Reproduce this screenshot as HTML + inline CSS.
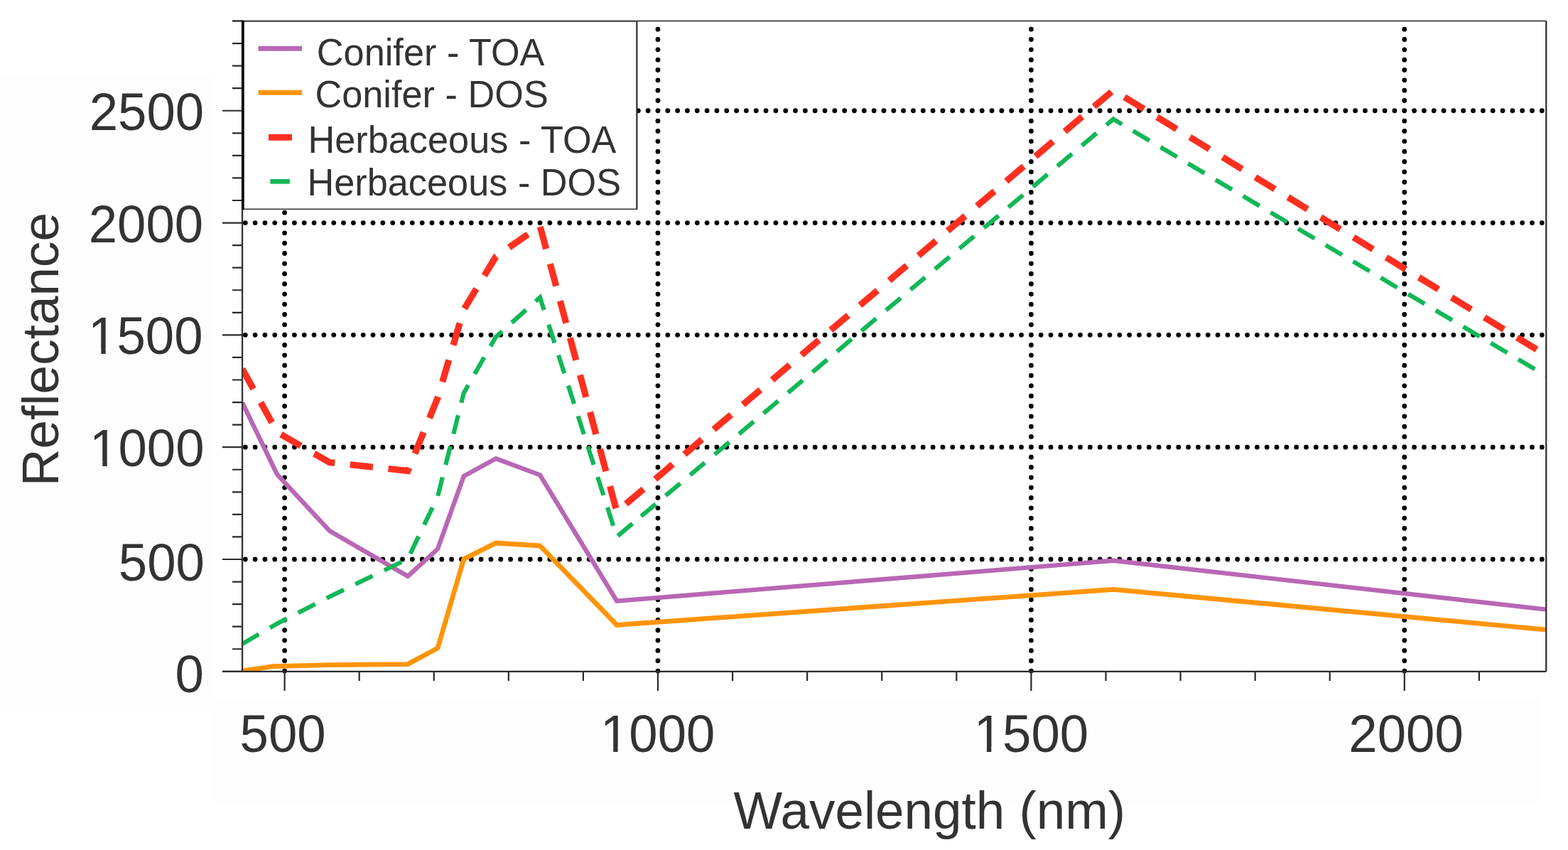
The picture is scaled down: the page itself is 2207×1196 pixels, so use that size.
<!DOCTYPE html><html><head><meta charset="utf-8"><title>Reflectance chart</title>
<style>html,body{margin:0;padding:0;background:#fff;}svg{display:block;}text{font-family:"Liberation Sans",Arial,sans-serif;fill:#333333;}</style></head><body>
<svg width="2207" height="1196" viewBox="0 0 2207 1196">
<rect x="0" y="0" width="2207" height="1196" fill="#ffffff"/>
<rect x="0" y="110" width="300" height="891" fill="#fdfdfd"/>
<rect x="298" y="982" width="1868" height="146" fill="#fdfdfd"/>
<rect x="341.0" y="29.5" width="1835.3000000000002" height="915.3" fill="#ffffff"/>
<path d="M345.30 786.99h0M359.12 786.99h0M372.95 786.99h0M386.77 786.99h0M400.60 786.99h0M414.43 786.99h0M428.25 786.99h0M442.08 786.99h0M455.90 786.99h0M469.73 786.99h0M483.56 786.99h0M497.38 786.99h0M511.21 786.99h0M525.03 786.99h0M538.86 786.99h0M552.69 786.99h0M566.51 786.99h0M580.34 786.99h0M594.16 786.99h0M607.99 786.99h0M621.82 786.99h0M635.64 786.99h0M649.47 786.99h0M663.29 786.99h0M677.12 786.99h0M690.95 786.99h0M704.77 786.99h0M718.60 786.99h0M732.42 786.99h0M746.25 786.99h0M760.08 786.99h0M773.90 786.99h0M787.73 786.99h0M801.55 786.99h0M815.38 786.99h0M829.21 786.99h0M843.03 786.99h0M856.86 786.99h0M870.68 786.99h0M884.51 786.99h0M898.34 786.99h0M912.16 786.99h0M925.99 786.99h0M939.81 786.99h0M953.64 786.99h0M967.47 786.99h0M981.29 786.99h0M995.12 786.99h0M1008.94 786.99h0M1022.77 786.99h0M1036.60 786.99h0M1050.42 786.99h0M1064.25 786.99h0M1078.07 786.99h0M1091.90 786.99h0M1105.73 786.99h0M1119.55 786.99h0M1133.38 786.99h0M1147.20 786.99h0M1161.03 786.99h0M1174.86 786.99h0M1188.68 786.99h0M1202.51 786.99h0M1216.33 786.99h0M1230.16 786.99h0M1243.99 786.99h0M1257.81 786.99h0M1271.64 786.99h0M1285.46 786.99h0M1299.29 786.99h0M1313.12 786.99h0M1326.94 786.99h0M1340.77 786.99h0M1354.59 786.99h0M1368.42 786.99h0M1382.25 786.99h0M1396.07 786.99h0M1409.90 786.99h0M1423.72 786.99h0M1437.55 786.99h0M1451.38 786.99h0M1465.20 786.99h0M1479.03 786.99h0M1492.85 786.99h0M1506.68 786.99h0M1520.51 786.99h0M1534.33 786.99h0M1548.16 786.99h0M1561.98 786.99h0M1575.81 786.99h0M1589.64 786.99h0M1603.46 786.99h0M1617.29 786.99h0M1631.11 786.99h0M1644.94 786.99h0M1658.77 786.99h0M1672.59 786.99h0M1686.42 786.99h0M1700.24 786.99h0M1714.07 786.99h0M1727.90 786.99h0M1741.72 786.99h0M1755.55 786.99h0M1769.37 786.99h0M1783.20 786.99h0M1797.03 786.99h0M1810.85 786.99h0M1824.68 786.99h0M1838.50 786.99h0M1852.33 786.99h0M1866.16 786.99h0M1879.98 786.99h0M1893.81 786.99h0M1907.63 786.99h0M1921.46 786.99h0M1935.29 786.99h0M1949.11 786.99h0M1962.94 786.99h0M1976.76 786.99h0M1990.59 786.99h0M2004.42 786.99h0M2018.24 786.99h0M2032.07 786.99h0M2045.89 786.99h0M2059.72 786.99h0M2073.55 786.99h0M2087.37 786.99h0M2101.20 786.99h0M2115.02 786.99h0M2128.85 786.99h0M2142.68 786.99h0M2156.50 786.99h0M2170.33 786.99h0M345.30 629.18h0M359.12 629.18h0M372.95 629.18h0M386.77 629.18h0M400.60 629.18h0M414.43 629.18h0M428.25 629.18h0M442.08 629.18h0M455.90 629.18h0M469.73 629.18h0M483.56 629.18h0M497.38 629.18h0M511.21 629.18h0M525.03 629.18h0M538.86 629.18h0M552.69 629.18h0M566.51 629.18h0M580.34 629.18h0M594.16 629.18h0M607.99 629.18h0M621.82 629.18h0M635.64 629.18h0M649.47 629.18h0M663.29 629.18h0M677.12 629.18h0M690.95 629.18h0M704.77 629.18h0M718.60 629.18h0M732.42 629.18h0M746.25 629.18h0M760.08 629.18h0M773.90 629.18h0M787.73 629.18h0M801.55 629.18h0M815.38 629.18h0M829.21 629.18h0M843.03 629.18h0M856.86 629.18h0M870.68 629.18h0M884.51 629.18h0M898.34 629.18h0M912.16 629.18h0M925.99 629.18h0M939.81 629.18h0M953.64 629.18h0M967.47 629.18h0M981.29 629.18h0M995.12 629.18h0M1008.94 629.18h0M1022.77 629.18h0M1036.60 629.18h0M1050.42 629.18h0M1064.25 629.18h0M1078.07 629.18h0M1091.90 629.18h0M1105.73 629.18h0M1119.55 629.18h0M1133.38 629.18h0M1147.20 629.18h0M1161.03 629.18h0M1174.86 629.18h0M1188.68 629.18h0M1202.51 629.18h0M1216.33 629.18h0M1230.16 629.18h0M1243.99 629.18h0M1257.81 629.18h0M1271.64 629.18h0M1285.46 629.18h0M1299.29 629.18h0M1313.12 629.18h0M1326.94 629.18h0M1340.77 629.18h0M1354.59 629.18h0M1368.42 629.18h0M1382.25 629.18h0M1396.07 629.18h0M1409.90 629.18h0M1423.72 629.18h0M1437.55 629.18h0M1451.38 629.18h0M1465.20 629.18h0M1479.03 629.18h0M1492.85 629.18h0M1506.68 629.18h0M1520.51 629.18h0M1534.33 629.18h0M1548.16 629.18h0M1561.98 629.18h0M1575.81 629.18h0M1589.64 629.18h0M1603.46 629.18h0M1617.29 629.18h0M1631.11 629.18h0M1644.94 629.18h0M1658.77 629.18h0M1672.59 629.18h0M1686.42 629.18h0M1700.24 629.18h0M1714.07 629.18h0M1727.90 629.18h0M1741.72 629.18h0M1755.55 629.18h0M1769.37 629.18h0M1783.20 629.18h0M1797.03 629.18h0M1810.85 629.18h0M1824.68 629.18h0M1838.50 629.18h0M1852.33 629.18h0M1866.16 629.18h0M1879.98 629.18h0M1893.81 629.18h0M1907.63 629.18h0M1921.46 629.18h0M1935.29 629.18h0M1949.11 629.18h0M1962.94 629.18h0M1976.76 629.18h0M1990.59 629.18h0M2004.42 629.18h0M2018.24 629.18h0M2032.07 629.18h0M2045.89 629.18h0M2059.72 629.18h0M2073.55 629.18h0M2087.37 629.18h0M2101.20 629.18h0M2115.02 629.18h0M2128.85 629.18h0M2142.68 629.18h0M2156.50 629.18h0M2170.33 629.18h0M345.30 471.37h0M359.12 471.37h0M372.95 471.37h0M386.77 471.37h0M400.60 471.37h0M414.43 471.37h0M428.25 471.37h0M442.08 471.37h0M455.90 471.37h0M469.73 471.37h0M483.56 471.37h0M497.38 471.37h0M511.21 471.37h0M525.03 471.37h0M538.86 471.37h0M552.69 471.37h0M566.51 471.37h0M580.34 471.37h0M594.16 471.37h0M607.99 471.37h0M621.82 471.37h0M635.64 471.37h0M649.47 471.37h0M663.29 471.37h0M677.12 471.37h0M690.95 471.37h0M704.77 471.37h0M718.60 471.37h0M732.42 471.37h0M746.25 471.37h0M760.08 471.37h0M773.90 471.37h0M787.73 471.37h0M801.55 471.37h0M815.38 471.37h0M829.21 471.37h0M843.03 471.37h0M856.86 471.37h0M870.68 471.37h0M884.51 471.37h0M898.34 471.37h0M912.16 471.37h0M925.99 471.37h0M939.81 471.37h0M953.64 471.37h0M967.47 471.37h0M981.29 471.37h0M995.12 471.37h0M1008.94 471.37h0M1022.77 471.37h0M1036.60 471.37h0M1050.42 471.37h0M1064.25 471.37h0M1078.07 471.37h0M1091.90 471.37h0M1105.73 471.37h0M1119.55 471.37h0M1133.38 471.37h0M1147.20 471.37h0M1161.03 471.37h0M1174.86 471.37h0M1188.68 471.37h0M1202.51 471.37h0M1216.33 471.37h0M1230.16 471.37h0M1243.99 471.37h0M1257.81 471.37h0M1271.64 471.37h0M1285.46 471.37h0M1299.29 471.37h0M1313.12 471.37h0M1326.94 471.37h0M1340.77 471.37h0M1354.59 471.37h0M1368.42 471.37h0M1382.25 471.37h0M1396.07 471.37h0M1409.90 471.37h0M1423.72 471.37h0M1437.55 471.37h0M1451.38 471.37h0M1465.20 471.37h0M1479.03 471.37h0M1492.85 471.37h0M1506.68 471.37h0M1520.51 471.37h0M1534.33 471.37h0M1548.16 471.37h0M1561.98 471.37h0M1575.81 471.37h0M1589.64 471.37h0M1603.46 471.37h0M1617.29 471.37h0M1631.11 471.37h0M1644.94 471.37h0M1658.77 471.37h0M1672.59 471.37h0M1686.42 471.37h0M1700.24 471.37h0M1714.07 471.37h0M1727.90 471.37h0M1741.72 471.37h0M1755.55 471.37h0M1769.37 471.37h0M1783.20 471.37h0M1797.03 471.37h0M1810.85 471.37h0M1824.68 471.37h0M1838.50 471.37h0M1852.33 471.37h0M1866.16 471.37h0M1879.98 471.37h0M1893.81 471.37h0M1907.63 471.37h0M1921.46 471.37h0M1935.29 471.37h0M1949.11 471.37h0M1962.94 471.37h0M1976.76 471.37h0M1990.59 471.37h0M2004.42 471.37h0M2018.24 471.37h0M2032.07 471.37h0M2045.89 471.37h0M2059.72 471.37h0M2073.55 471.37h0M2087.37 471.37h0M2101.20 471.37h0M2115.02 471.37h0M2128.85 471.37h0M2142.68 471.37h0M2156.50 471.37h0M2170.33 471.37h0M345.30 313.56h0M359.12 313.56h0M372.95 313.56h0M386.77 313.56h0M400.60 313.56h0M414.43 313.56h0M428.25 313.56h0M442.08 313.56h0M455.90 313.56h0M469.73 313.56h0M483.56 313.56h0M497.38 313.56h0M511.21 313.56h0M525.03 313.56h0M538.86 313.56h0M552.69 313.56h0M566.51 313.56h0M580.34 313.56h0M594.16 313.56h0M607.99 313.56h0M621.82 313.56h0M635.64 313.56h0M649.47 313.56h0M663.29 313.56h0M677.12 313.56h0M690.95 313.56h0M704.77 313.56h0M718.60 313.56h0M732.42 313.56h0M746.25 313.56h0M760.08 313.56h0M773.90 313.56h0M787.73 313.56h0M801.55 313.56h0M815.38 313.56h0M829.21 313.56h0M843.03 313.56h0M856.86 313.56h0M870.68 313.56h0M884.51 313.56h0M898.34 313.56h0M912.16 313.56h0M925.99 313.56h0M939.81 313.56h0M953.64 313.56h0M967.47 313.56h0M981.29 313.56h0M995.12 313.56h0M1008.94 313.56h0M1022.77 313.56h0M1036.60 313.56h0M1050.42 313.56h0M1064.25 313.56h0M1078.07 313.56h0M1091.90 313.56h0M1105.73 313.56h0M1119.55 313.56h0M1133.38 313.56h0M1147.20 313.56h0M1161.03 313.56h0M1174.86 313.56h0M1188.68 313.56h0M1202.51 313.56h0M1216.33 313.56h0M1230.16 313.56h0M1243.99 313.56h0M1257.81 313.56h0M1271.64 313.56h0M1285.46 313.56h0M1299.29 313.56h0M1313.12 313.56h0M1326.94 313.56h0M1340.77 313.56h0M1354.59 313.56h0M1368.42 313.56h0M1382.25 313.56h0M1396.07 313.56h0M1409.90 313.56h0M1423.72 313.56h0M1437.55 313.56h0M1451.38 313.56h0M1465.20 313.56h0M1479.03 313.56h0M1492.85 313.56h0M1506.68 313.56h0M1520.51 313.56h0M1534.33 313.56h0M1548.16 313.56h0M1561.98 313.56h0M1575.81 313.56h0M1589.64 313.56h0M1603.46 313.56h0M1617.29 313.56h0M1631.11 313.56h0M1644.94 313.56h0M1658.77 313.56h0M1672.59 313.56h0M1686.42 313.56h0M1700.24 313.56h0M1714.07 313.56h0M1727.90 313.56h0M1741.72 313.56h0M1755.55 313.56h0M1769.37 313.56h0M1783.20 313.56h0M1797.03 313.56h0M1810.85 313.56h0M1824.68 313.56h0M1838.50 313.56h0M1852.33 313.56h0M1866.16 313.56h0M1879.98 313.56h0M1893.81 313.56h0M1907.63 313.56h0M1921.46 313.56h0M1935.29 313.56h0M1949.11 313.56h0M1962.94 313.56h0M1976.76 313.56h0M1990.59 313.56h0M2004.42 313.56h0M2018.24 313.56h0M2032.07 313.56h0M2045.89 313.56h0M2059.72 313.56h0M2073.55 313.56h0M2087.37 313.56h0M2101.20 313.56h0M2115.02 313.56h0M2128.85 313.56h0M2142.68 313.56h0M2156.50 313.56h0M2170.33 313.56h0M345.30 155.75h0M359.12 155.75h0M372.95 155.75h0M386.77 155.75h0M400.60 155.75h0M414.43 155.75h0M428.25 155.75h0M442.08 155.75h0M455.90 155.75h0M469.73 155.75h0M483.56 155.75h0M497.38 155.75h0M511.21 155.75h0M525.03 155.75h0M538.86 155.75h0M552.69 155.75h0M566.51 155.75h0M580.34 155.75h0M594.16 155.75h0M607.99 155.75h0M621.82 155.75h0M635.64 155.75h0M649.47 155.75h0M663.29 155.75h0M677.12 155.75h0M690.95 155.75h0M704.77 155.75h0M718.60 155.75h0M732.42 155.75h0M746.25 155.75h0M760.08 155.75h0M773.90 155.75h0M787.73 155.75h0M801.55 155.75h0M815.38 155.75h0M829.21 155.75h0M843.03 155.75h0M856.86 155.75h0M870.68 155.75h0M884.51 155.75h0M898.34 155.75h0M912.16 155.75h0M925.99 155.75h0M939.81 155.75h0M953.64 155.75h0M967.47 155.75h0M981.29 155.75h0M995.12 155.75h0M1008.94 155.75h0M1022.77 155.75h0M1036.60 155.75h0M1050.42 155.75h0M1064.25 155.75h0M1078.07 155.75h0M1091.90 155.75h0M1105.73 155.75h0M1119.55 155.75h0M1133.38 155.75h0M1147.20 155.75h0M1161.03 155.75h0M1174.86 155.75h0M1188.68 155.75h0M1202.51 155.75h0M1216.33 155.75h0M1230.16 155.75h0M1243.99 155.75h0M1257.81 155.75h0M1271.64 155.75h0M1285.46 155.75h0M1299.29 155.75h0M1313.12 155.75h0M1326.94 155.75h0M1340.77 155.75h0M1354.59 155.75h0M1368.42 155.75h0M1382.25 155.75h0M1396.07 155.75h0M1409.90 155.75h0M1423.72 155.75h0M1437.55 155.75h0M1451.38 155.75h0M1465.20 155.75h0M1479.03 155.75h0M1492.85 155.75h0M1506.68 155.75h0M1520.51 155.75h0M1534.33 155.75h0M1548.16 155.75h0M1561.98 155.75h0M1575.81 155.75h0M1589.64 155.75h0M1603.46 155.75h0M1617.29 155.75h0M1631.11 155.75h0M1644.94 155.75h0M1658.77 155.75h0M1672.59 155.75h0M1686.42 155.75h0M1700.24 155.75h0M1714.07 155.75h0M1727.90 155.75h0M1741.72 155.75h0M1755.55 155.75h0M1769.37 155.75h0M1783.20 155.75h0M1797.03 155.75h0M1810.85 155.75h0M1824.68 155.75h0M1838.50 155.75h0M1852.33 155.75h0M1866.16 155.75h0M1879.98 155.75h0M1893.81 155.75h0M1907.63 155.75h0M1921.46 155.75h0M1935.29 155.75h0M1949.11 155.75h0M1962.94 155.75h0M1976.76 155.75h0M1990.59 155.75h0M2004.42 155.75h0M2018.24 155.75h0M2032.07 155.75h0M2045.89 155.75h0M2059.72 155.75h0M2073.55 155.75h0M2087.37 155.75h0M2101.20 155.75h0M2115.02 155.75h0M2128.85 155.75h0M2142.68 155.75h0M2156.50 155.75h0M2170.33 155.75h0M400.60 944.10v0M400.60 929.77v0M400.60 915.44v0M400.60 901.10v0M400.60 886.77v0M400.60 872.44v0M400.60 858.11v0M400.60 843.78v0M400.60 829.44v0M400.60 815.11v0M400.60 800.78v0M400.60 786.45v0M400.60 772.12v0M400.60 757.78v0M400.60 743.45v0M400.60 729.12v0M400.60 714.79v0M400.60 700.46v0M400.60 686.12v0M400.60 671.79v0M400.60 657.46v0M400.60 643.13v0M400.60 628.80v0M400.60 614.46v0M400.60 600.13v0M400.60 585.80v0M400.60 571.47v0M400.60 557.14v0M400.60 542.80v0M400.60 528.47v0M400.60 514.14v0M400.60 499.81v0M400.60 485.48v0M400.60 471.14v0M400.60 456.81v0M400.60 442.48v0M400.60 428.15v0M400.60 413.82v0M400.60 399.48v0M400.60 385.15v0M400.60 370.82v0M400.60 356.49v0M400.60 342.16v0M400.60 327.82v0M400.60 313.49v0M400.60 299.16v0M400.60 284.83v0M400.60 270.50v0M400.60 256.16v0M400.60 241.83v0M400.60 227.50v0M400.60 213.17v0M400.60 198.84v0M400.60 184.50v0M400.60 170.17v0M400.60 155.84v0M400.60 141.51v0M400.60 127.18v0M400.60 112.84v0M400.60 98.51v0M400.60 84.18v0M400.60 69.85v0M400.60 55.52v0M400.60 41.18v0M926.00 944.10v0M926.00 929.77v0M926.00 915.44v0M926.00 901.10v0M926.00 886.77v0M926.00 872.44v0M926.00 858.11v0M926.00 843.78v0M926.00 829.44v0M926.00 815.11v0M926.00 800.78v0M926.00 786.45v0M926.00 772.12v0M926.00 757.78v0M926.00 743.45v0M926.00 729.12v0M926.00 714.79v0M926.00 700.46v0M926.00 686.12v0M926.00 671.79v0M926.00 657.46v0M926.00 643.13v0M926.00 628.80v0M926.00 614.46v0M926.00 600.13v0M926.00 585.80v0M926.00 571.47v0M926.00 557.14v0M926.00 542.80v0M926.00 528.47v0M926.00 514.14v0M926.00 499.81v0M926.00 485.48v0M926.00 471.14v0M926.00 456.81v0M926.00 442.48v0M926.00 428.15v0M926.00 413.82v0M926.00 399.48v0M926.00 385.15v0M926.00 370.82v0M926.00 356.49v0M926.00 342.16v0M926.00 327.82v0M926.00 313.49v0M926.00 299.16v0M926.00 284.83v0M926.00 270.50v0M926.00 256.16v0M926.00 241.83v0M926.00 227.50v0M926.00 213.17v0M926.00 198.84v0M926.00 184.50v0M926.00 170.17v0M926.00 155.84v0M926.00 141.51v0M926.00 127.18v0M926.00 112.84v0M926.00 98.51v0M926.00 84.18v0M926.00 69.85v0M926.00 55.52v0M926.00 41.18v0M1451.40 944.10v0M1451.40 929.77v0M1451.40 915.44v0M1451.40 901.10v0M1451.40 886.77v0M1451.40 872.44v0M1451.40 858.11v0M1451.40 843.78v0M1451.40 829.44v0M1451.40 815.11v0M1451.40 800.78v0M1451.40 786.45v0M1451.40 772.12v0M1451.40 757.78v0M1451.40 743.45v0M1451.40 729.12v0M1451.40 714.79v0M1451.40 700.46v0M1451.40 686.12v0M1451.40 671.79v0M1451.40 657.46v0M1451.40 643.13v0M1451.40 628.80v0M1451.40 614.46v0M1451.40 600.13v0M1451.40 585.80v0M1451.40 571.47v0M1451.40 557.14v0M1451.40 542.80v0M1451.40 528.47v0M1451.40 514.14v0M1451.40 499.81v0M1451.40 485.48v0M1451.40 471.14v0M1451.40 456.81v0M1451.40 442.48v0M1451.40 428.15v0M1451.40 413.82v0M1451.40 399.48v0M1451.40 385.15v0M1451.40 370.82v0M1451.40 356.49v0M1451.40 342.16v0M1451.40 327.82v0M1451.40 313.49v0M1451.40 299.16v0M1451.40 284.83v0M1451.40 270.50v0M1451.40 256.16v0M1451.40 241.83v0M1451.40 227.50v0M1451.40 213.17v0M1451.40 198.84v0M1451.40 184.50v0M1451.40 170.17v0M1451.40 155.84v0M1451.40 141.51v0M1451.40 127.18v0M1451.40 112.84v0M1451.40 98.51v0M1451.40 84.18v0M1451.40 69.85v0M1451.40 55.52v0M1451.40 41.18v0M1976.80 944.10v0M1976.80 929.77v0M1976.80 915.44v0M1976.80 901.10v0M1976.80 886.77v0M1976.80 872.44v0M1976.80 858.11v0M1976.80 843.78v0M1976.80 829.44v0M1976.80 815.11v0M1976.80 800.78v0M1976.80 786.45v0M1976.80 772.12v0M1976.80 757.78v0M1976.80 743.45v0M1976.80 729.12v0M1976.80 714.79v0M1976.80 700.46v0M1976.80 686.12v0M1976.80 671.79v0M1976.80 657.46v0M1976.80 643.13v0M1976.80 628.80v0M1976.80 614.46v0M1976.80 600.13v0M1976.80 585.80v0M1976.80 571.47v0M1976.80 557.14v0M1976.80 542.80v0M1976.80 528.47v0M1976.80 514.14v0M1976.80 499.81v0M1976.80 485.48v0M1976.80 471.14v0M1976.80 456.81v0M1976.80 442.48v0M1976.80 428.15v0M1976.80 413.82v0M1976.80 399.48v0M1976.80 385.15v0M1976.80 370.82v0M1976.80 356.49v0M1976.80 342.16v0M1976.80 327.82v0M1976.80 313.49v0M1976.80 299.16v0M1976.80 284.83v0M1976.80 270.50v0M1976.80 256.16v0M1976.80 241.83v0M1976.80 227.50v0M1976.80 213.17v0M1976.80 198.84v0M1976.80 184.50v0M1976.80 170.17v0M1976.80 155.84v0M1976.80 141.51v0M1976.80 127.18v0M1976.80 112.84v0M1976.80 98.51v0M1976.80 84.18v0M1976.80 69.85v0M1976.80 55.52v0M1976.80 41.18v0" stroke="#000" stroke-width="6.8" stroke-linecap="round" fill="none"/>
<defs><clipPath id="pc"><rect x="341.0" y="29.5" width="1835.3000000000002" height="915.3"/></clipPath></defs><g clip-path="url(#pc)">
<polyline points="341.0,566.3 390.0,667.5 463.6,746.8 574.0,810.8 616.0,772.5 652.8,670.0 698.0,645.3 760.0,668.3 868.2,845.6 1567.0,788.8 2176.4,857.6" fill="none" stroke="#b867b4" stroke-width="6.4" stroke-linejoin="miter"/>
<polyline points="341.0,944.0 383.8,937.7 463.6,935.6 574.0,934.6 616.0,912.0 652.8,786.6 698.0,764.0 760.0,767.8 868.2,879.4 1567.0,829.4 2176.4,886.1" fill="none" stroke="#ff9408" stroke-width="6.8" stroke-linejoin="miter"/>
<polyline points="341.0,519.0 390.0,608.0 463.6,650.6 574.0,662.5 616.0,560.0 652.8,435.5 698.0,361.0 760.0,318.0 868.2,720.0 1567.0,127.0 2176.4,500.0" fill="none" stroke="#ff2f1f" stroke-width="9.2" stroke-dasharray="32.3 21.7" stroke-linejoin="miter"/>
<polyline points="341.00,906.00 390.00,877.50 463.60,839.70 574.00,786.40 616.00,699.00 652.80,553.00 698.00,474.00 760.00,418.50 768.94,446.32" fill="none" stroke="#12b757" stroke-width="6.2" stroke-dasharray="27.0 18.03" stroke-dashoffset="0.00" stroke-linejoin="miter"/>
<polyline points="768.94,446.32 868.20,755.20 893.12,734.24" fill="none" stroke="#12b757" stroke-width="6.2" stroke-dasharray="27.0 18.03" stroke-dashoffset="34.05" stroke-linejoin="miter"/>
<polyline points="893.12,734.24 1567.00,167.60 2176.40,529.00" fill="none" stroke="#12b757" stroke-width="6.2" stroke-dasharray="27.0 18.03" stroke-dashoffset="32.91" stroke-linejoin="miter"/>
</g>
<line x1="327" y1="29.5" x2="2176.3" y2="29.5" stroke="#4a4a4a" stroke-width="2"/>
<line x1="2176.3" y1="29.5" x2="2176.3" y2="944.8" stroke="#2a2a2a" stroke-width="2.2"/>
<line x1="313" y1="944.8" x2="2176.3" y2="944.8" stroke="#2a2a2a" stroke-width="2.2"/>
<line x1="341.05" y1="28.5" x2="341.05" y2="945.8" stroke="#333" stroke-width="2.3"/>
<path d="M313 944.80H341.0M327 913.24H341.0M327 881.68H341.0M327 850.11H341.0M327 818.55H341.0M313 786.99H341.0M327 755.43H341.0M327 723.87H341.0M327 692.30H341.0M327 660.74H341.0M313 629.18H341.0M327 597.62H341.0M327 566.06H341.0M327 534.49H341.0M327 502.93H341.0M313 471.37H341.0M327 439.81H341.0M327 408.24H341.0M327 376.68H341.0M327 345.12H341.0M313 313.56H341.0M327 282.00H341.0M327 250.43H341.0M327 218.87H341.0M327 187.31H341.0M313 155.75H341.0M327 124.19H341.0M327 92.62H341.0M327 61.06H341.0M327 29.50H341.0M400.60 944.8V972M505.68 944.8V958M610.76 944.8V958M715.84 944.8V958M820.92 944.8V958M926.00 944.8V972M1031.08 944.8V958M1136.16 944.8V958M1241.24 944.8V958M1346.32 944.8V958M1451.40 944.8V972M1556.48 944.8V958M1661.56 944.8V958M1766.64 944.8V958M1871.72 944.8V958M1976.80 944.8V972M2081.88 944.8V958" stroke="#2a2a2a" stroke-width="2.2" fill="none"/>
<rect x="341.8" y="30" width="554.6" height="264.3" fill="#ffffff" stroke="#4a4a4a" stroke-width="1.8"/>
<line x1="342" y1="29" x2="342" y2="295" stroke="#000" stroke-width="3.4"/>
<line x1="896.4" y1="30" x2="896.4" y2="294.3" stroke="#333" stroke-width="1.9"/>
<line x1="363.6" y1="68.2" x2="425.1" y2="68.2" stroke="#b867b4" stroke-width="7"/>
<line x1="363.6" y1="130.3" x2="425.1" y2="130.3" stroke="#ff9408" stroke-width="7"/>
<line x1="378" y1="193.2" x2="411" y2="193.2" stroke="#ff2f1f" stroke-width="9"/>
<line x1="380.4" y1="255.3" x2="407.9" y2="255.3" stroke="#12b757" stroke-width="6.7"/>
<text transform="translate(445.80 91.50) scale(1 1.015)" font-size="52.3">Conifer - TOA</text>
<text transform="translate(443.40 151.20) scale(1 1.015)" font-size="52.3">Conifer - DOS</text>
<text transform="translate(433.40 214.90) scale(1 1.015)" font-size="52.3">Herbaceous - TOA</text>
<text transform="translate(432.40 275.00) scale(1 1.015)" font-size="52.3">Herbaceous - DOS</text>
<text transform="translate(286.90 973.90) scale(1 1.033)" font-size="72.6" text-anchor="end">0</text>
<text transform="translate(287.90 816.89) scale(1 1.033)" font-size="72.6" text-anchor="end">500</text>
<clipPath id="c1_34"><rect x="-211.51" y="-200" width="261.51" height="193.38"/><rect x="-143.25" y="-200" width="6.42" height="400"/><rect x="-121.13" y="-200" width="40.38" height="400"/><rect x="-80.75" y="-200" width="40.38" height="400"/><rect x="-40.38" y="-200" width="40.38" height="400"/></clipPath>
<text transform="translate(287.60 655.58) scale(1 1.033)" font-size="72.6" text-anchor="end" clip-path="url(#c1_34)">1000</text>
<clipPath id="c1_36"><rect x="-211.51" y="-200" width="261.51" height="193.38"/><rect x="-143.25" y="-200" width="6.42" height="400"/><rect x="-121.13" y="-200" width="40.38" height="400"/><rect x="-80.75" y="-200" width="40.38" height="400"/><rect x="-40.38" y="-200" width="40.38" height="400"/></clipPath>
<text transform="translate(285.60 497.87) scale(1 1.033)" font-size="72.6" text-anchor="end" clip-path="url(#c1_36)">1500</text>
<text transform="translate(286.20 340.76) scale(1 1.033)" font-size="72.6" text-anchor="end">2000</text>
<text transform="translate(287.20 183.35) scale(1 1.033)" font-size="72.6" text-anchor="end">2500</text>
<text transform="translate(398.10 1057.80) scale(1 1.033)" font-size="72.6" text-anchor="middle">500</text>
<clipPath id="c1_41"><rect x="-130.75" y="-200" width="261.51" height="193.38"/><rect x="-62.50" y="-200" width="6.42" height="400"/><rect x="-40.38" y="-200" width="40.38" height="400"/><rect x="0.00" y="-200" width="40.38" height="400"/><rect x="40.38" y="-200" width="40.38" height="400"/></clipPath>
<text transform="translate(925.70 1057.80) scale(1 1.033)" font-size="72.6" text-anchor="middle" clip-path="url(#c1_41)">1000</text>
<clipPath id="c1_43"><rect x="-130.75" y="-200" width="261.51" height="193.38"/><rect x="-62.50" y="-200" width="6.42" height="400"/><rect x="-40.38" y="-200" width="40.38" height="400"/><rect x="0.00" y="-200" width="40.38" height="400"/><rect x="40.38" y="-200" width="40.38" height="400"/></clipPath>
<text transform="translate(1451.40 1057.80) scale(1 1.033)" font-size="72.6" text-anchor="middle" clip-path="url(#c1_43)">1500</text>
<text transform="translate(1979.00 1057.80) scale(1 1.033)" font-size="72.6" text-anchor="middle">2000</text>
<text transform="translate(1308.30 1166.30) scale(1 1.02)" font-size="72.8" text-anchor="middle">Wavelength (nm)</text>
<text transform="translate(82.30 491.50) rotate(-90) scale(1 0.995)" font-size="73" text-anchor="middle">Reflectance</text>
</svg></body></html>
